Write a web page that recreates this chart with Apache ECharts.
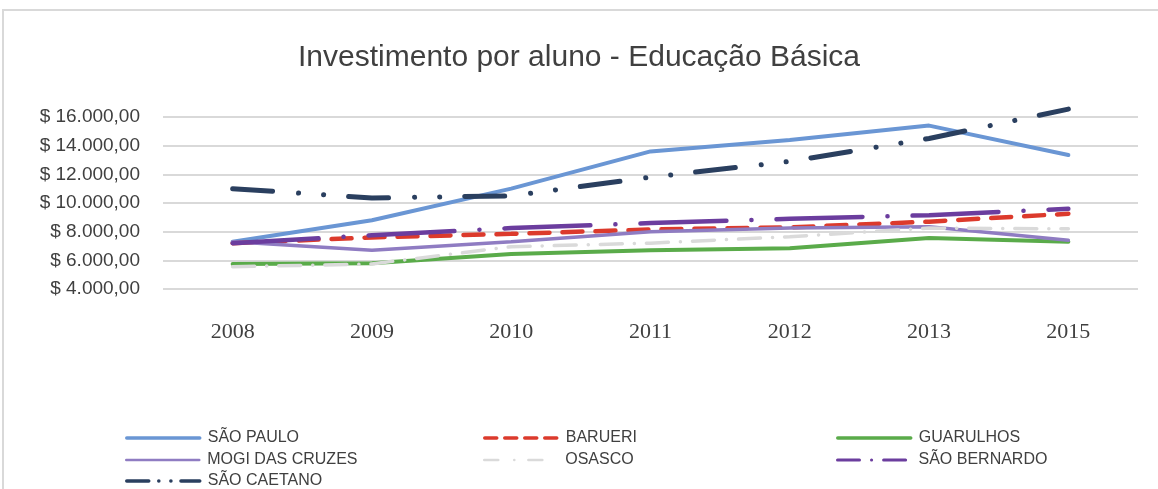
<!DOCTYPE html>
<html>
<head>
<meta charset="utf-8">
<script src="https://cdn.jsdelivr.net/npm/echarts@6/dist/echarts.min.js"></script>
<style>
  html,body{margin:0;padding:0;background:#fff;}
  #main{width:1158px;height:489px;}
</style>
</head>
<body>
<div id="main"></div>
<script>
var years = ['2008', '2009', '2010', '2011', '2012', '2013', '2015'];
var saoPaulo = [7300, 8800, 11000, 13600, 14400, 15400, 13350];
var barueri = [7200, 7600, 7850, 8150, 8300, 8700, 9250];
var guarulhos = [5750, 5800, 6450, 6700, 6850, 7550, 7300];
var mogi = [7300, 6700, 7300, 8000, 8250, 8350, 7400];
var osasco = [5550, 5750, 6950, 7200, 7650, 8250, 8200];
var saoBernardo = [7200, 7750, 8250, 8600, 8900, 9150, 9600];
var saoCaetano = [11000, 10350, 10500, 11800, 12900, 14500, 16550];

// formato brasileiro: $ 16.000,00
function moeda(v){
  var s = String(Math.round(v));
  s = s.replace(/\B(?=(\d{3})+(?!\d))/g, '.');
  return '$ ' + s + ',00';
}

function linha(nome, dados, cor, largura, tracejado){
  return {
    name: nome,
    type: 'line',
    data: dados,
    symbol: 'none',
    clip: false,
    silent: true,
    lineStyle: {color: cor, width: largura, type: tracejado, cap: 'round'},
    itemStyle: {color: cor}
  };
}

// uma legenda por item, em tres colunas
function legenda(nome, x, y, largura, tracejado){
  return {
    data: [nome],
    left: x,
    top: y,
    padding: 0,
    itemWidth: 73,
    itemHeight: 14,
    itemStyle: {opacity: 0},
    lineStyle: {width: largura, type: tracejado, cap: 'round'},
    textStyle: {fontFamily: 'Liberation Sans, Arial, sans-serif', fontSize: 16, color: '#404040', padding: [0, 0, 0, 3]}
  };
}

var option = {
  animation: false,
  backgroundColor: '#fff',
  title: {
    text: 'Investimento por aluno - Educação Básica',
    left: 'center',
    top: 38,
    textStyle: {fontFamily: 'Liberation Sans, Arial, sans-serif', fontSize: 30, fontWeight: 'normal', color: '#404040'}
  },
  graphic: [{
    type: 'rect',
    shape: {x: 3, y: 10, width: 1170, height: 500},
    style: {fill: null, stroke: '#d9d9d9', lineWidth: 2},
    silent: true
  }],
  legend: [
    legenda('SÃO PAULO', 125, 430, 3.5, 'solid'),
    legenda('MOGI DAS CRUZES', 125, 452, 2.5, 'solid'),
    legenda('SÃO CAETANO', 125, 473, 3.5, [22, 10, 0.1, 12, 0.1, 10]),
    legenda('BARUERI', 483, 430, 3.5, [12, 8]),
    legenda('OSASCO', 483, 452, 2.5, [14, 16, 0.1, 14]),
    legenda('GUARULHOS', 836, 430, 3.5, 'solid'),
    legenda('SÃO BERNARDO', 836, 452, 3, [22, 12, 0.1, 12])
  ],
  grid: {left: 163, right: 20, top: 117, bottom: 200},
  xAxis: {
    type: 'category',
    data: years,
    axisLine: {show: false},
    axisTick: {show: false},
    axisLabel: {margin: 32, fontFamily: 'Liberation Serif, Times New Roman, serif', fontSize: 22, color: '#404040'}
  },
  yAxis: {
    type: 'value',
    min: 4000,
    max: 16000,
    interval: 2000,
    axisLine: {show: false},
    axisTick: {show: false},
    splitLine: {lineStyle: {color: '#d9d9d9', width: 2}},
    axisLabel: {margin: 23, formatter: moeda, fontFamily: 'Liberation Sans, Arial, sans-serif', fontSize: 19, color: '#404040'}
  },
  series: [
    linha('SÃO PAULO', saoPaulo, '#6a96d4', 4, 'solid'),
    linha('BARUERI', barueri, '#dc3a2c', 4.5, [20, 13]),
    linha('GUARULHOS', guarulhos, '#5aab4a', 4, 'solid'),
    linha('MOGI DAS CRUZES', mogi, '#8f7cc2', 3.5, 'solid'),
    linha('OSASCO', osasco, '#dadada', 3.5, [22, 12, 0.1, 12]),
    linha('SÃO BERNARDO', saoBernardo, '#6b3d9e', 4.5, [86, 25, 0.1, 25]),
    linha('SÃO CAETANO', saoCaetano, '#2a3f5f', 5, [40, 26, 0.1, 25, 0.1, 25])
  ]
};

var chart = echarts.init(document.getElementById('main'));
chart.setOption(option);
</script>
</body>
</html>
